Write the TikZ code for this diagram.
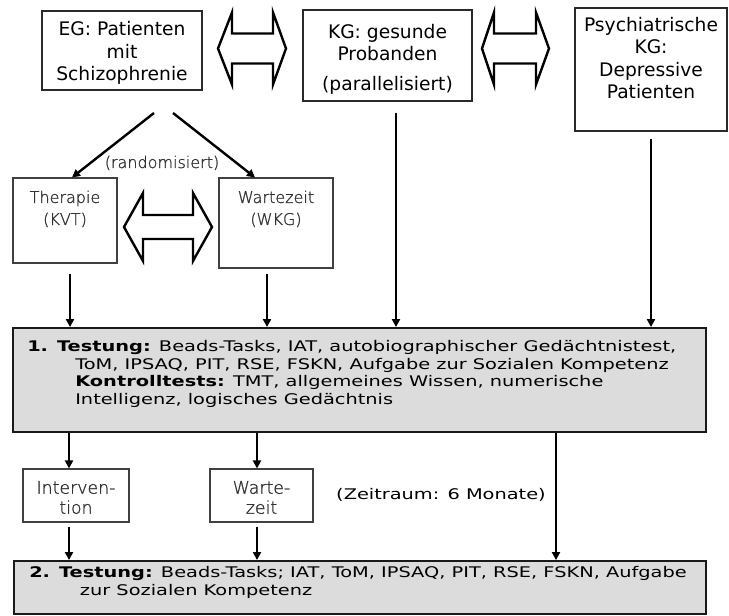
\documentclass[tikz,border=0pt]{standalone}
\usepackage{fontspec}
\setmainfont{DejaVu Sans}
\newfontfamily\bodyfont{DejaVu Sans}[FakeStretch=1.32]
\newfontfamily\thinfont{DejaVu Sans ExtraLight}[FakeBold=1.2]
\usetikzlibrary{arrows.meta,calc}

\definecolor{boxgray}{HTML}{DCDCDC}
\definecolor{edge}{HTML}{2A2A2A}

\begin{document}
\begin{tikzpicture}[x=0.75pt,y=-0.75pt,
  box/.style={draw=edge, line width=0.8pt, fill=white, inner sep=0pt},
  testbox/.style={draw=black!90, line width=1.4pt, fill=boxgray, inner sep=0pt},
  arr/.style={line width=1.8pt, -{Triangle[length=6pt,width=6pt]}},
  biarrow/.style={draw=black, line width=1.8pt, fill=white, line join=miter},
  headtxt/.style={font=\fontsize{14}{16.7}\selectfont, align=center, inner sep=0pt, anchor=north},
  thintxt/.style={font=\thinfont\fontsize{12}{16.5}\selectfont, text=black!80, align=center, inner sep=0pt, anchor=north},
  smalltxt/.style={font=\thinfont\fontsize{13}{15}\selectfont, text=black!80, align=center, inner sep=0pt, anchor=north},
  bodytxt/.style={font=\bodyfont\fontsize{11}{13.3}\selectfont, align=left, inner sep=0pt, anchor=north west},
]
\useasboundingbox (0,0) rectangle (729,616);

% x positions of the vertical connectors
\coordinate (xA) at (70,0);
\coordinate (xB) at (267,0);
\coordinate (xC) at (396,0);
\coordinate (xD) at (651,0);
\coordinate (xE) at (69,0);
\coordinate (xF) at (257,0);
\coordinate (xG) at (556,0);

% groups
\node[box, minimum width=120pt, minimum height=59.25pt] (eg) at (122,50.5) {};
\node[headtxt] (egtext) at (122,21.3) {EG: Patienten\\mit\\Schizophrenie};

\node[box, minimum width=126.75pt, minimum height=68.25pt] (kg) at (387.5,55.5) {};
\node[headtxt, font=\fontsize{14}{16.2}\selectfont] (kgtext) at (387.5,24.3) {KG: gesunde\\Probanden\\[6.4pt](parallelisiert)};

\node[box, minimum width=114pt, minimum height=92.25pt] (psy) at (651,69.5) {};
\node[headtxt, font=\fontsize{14}{16.9}\selectfont] (psytext) at (651,16.8) {Psychiatrische\\KG:\\Depressive\\Patienten};

% randomised arms
\node[box, draw=black!75, minimum width=78pt, minimum height=63.75pt] (ther) at (65,220.5) {};
\node[thintxt] (thertext) at (65,190.5) {Therapie\\(KVT)};

\node[box, draw=black!75, minimum width=85.5pt, minimum height=67.5pt] (wart) at (276,223) {};
\node[thintxt] (warttext) at (276,190.5) {Wartezeit\\(WKG)};

\node[thintxt, anchor=base] (rand) at (162,168) {(randomisiert)};

% first test session
\node[testbox, minimum width=519.75pt, minimum height=78pt] (t1) at (359.5,380) {};
\node[bodytxt] (t1text) at (27,339.9) {{\bfseries 1. Testung:} Beads-Tasks, IAT, autobiographischer Gedächtnistest,\\
\hspace*{36pt}ToM, IPSAQ, PIT, RSE, FSKN, Aufgabe zur Sozialen Kompetenz\\
\hspace*{36pt}{\bfseries Kontrolltests:} TMT, allgemeines Wissen, numerische\\
\hspace*{36pt}Intelligenz, logisches Gedächtnis};

% interval
\node[box, draw=black!75, minimum width=79.5pt, minimum height=39.75pt] (interv) at (76,495.5) {};
\node[smalltxt] (intervtext) at (76,480.8) {Interven-\\tion};

\node[box, draw=black!75, minimum width=77.25pt, minimum height=39.75pt] (wait) at (261.5,495.5) {};
\node[smalltxt] (waittext) at (261.5,480.8) {Warte-\\zeit};

\node[font=\bodyfont\fontsize{11}{14}\selectfont, inner sep=0pt, anchor=base] (period) at (441,500) {(Zeitraum: 6 Monate)};

% second test session
\node[testbox, minimum width=519pt, minimum height=39.75pt] (t2) at (360,587.5) {};
\node[bodytxt] (t2text) at (29,565.9) {{\bfseries 2. Testung:} Beads-Tasks; IAT, ToM, IPSAQ, PIT, RSE, FSKN, Aufgabe\\
\hspace*{38pt}zur Sozialen Kompetenz};

% block double arrows
\draw[biarrow] (218,48.5) -- (232,12.5) -- (232,33.5) -- (273,33.5) -- (273,12.5)
  -- (286,48.5) -- (273,84.5) -- (273,63.5) -- (232,63.5) -- (232,84.5) -- cycle;
\draw[biarrow] (482,48.5) -- (494,12.5) -- (494,33.5) -- (536,33.5) -- (536,12.5)
  -- (549,48.5) -- (536,84.5) -- (536,63.5) -- (494,63.5) -- (494,84.5) -- cycle;
\draw[biarrow] (124,227) -- (143,193) -- (143,215) -- (193,215) -- (193,193)
  -- (212,227) -- (193,261) -- (193,239) -- (143,239) -- (143,261) -- cycle;

% randomisation
\coordinate (split1) at (154,113);
\coordinate (split2) at (173,113);
\draw[arr] (split1) -- ($(ther.north)+(7,0)$);
\draw[arr] (split2) -- ($(wart.north)+(-21,0)$);

% into the first test session
\draw[arr, shorten <=7.5pt] (ther.south -| xA) -- (xA |- t1.north);
\draw[arr, shorten <=3.75pt] (wart.south -| xB) -- (xB |- t1.north);
\draw[arr, shorten <=8.25pt] (kg.south -| xC) -- (xC |- t1.north);
\draw[arr, shorten <=5.25pt] (psy.south -| xD) -- (xD |- t1.north);

% interval and second test session
\draw[arr] (t1.south -| xE) -- (xE |- interv.north);
\draw[arr] (t1.south -| xF) -- (xF |- wait.north);
\draw[arr, shorten <=3pt] (interv.south -| xE) -- (xE |- t2.north);
\draw[arr, shorten <=3pt] (wait.south -| xF) -- (xF |- t2.north);
\draw[arr] (t1.south -| xG) -- (xG |- t2.north);
\end{tikzpicture}
\end{document}
